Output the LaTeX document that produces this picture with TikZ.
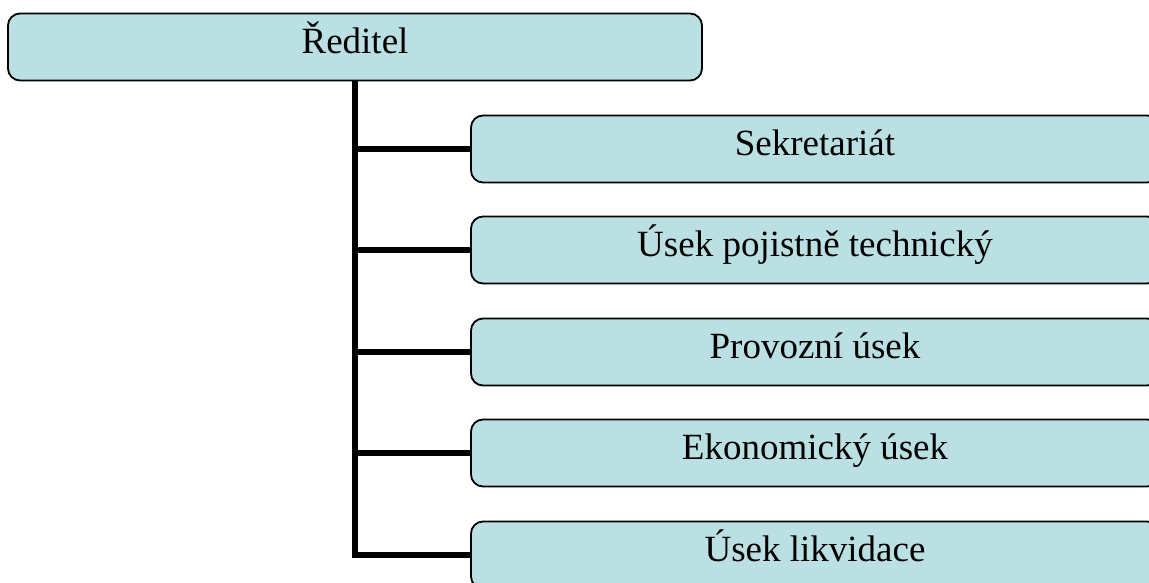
\documentclass[tikz,border=0pt]{standalone}
\usepackage{fontspec}
\setmainfont{Liberation Serif}
\definecolor{orgblue}{HTML}{BBE0E3}
\begin{document}
\begin{tikzpicture}[x=1pt,y=-1pt]
  \useasboundingbox (0,0) rectangle (1149,583);
  \begin{scope}[every node/.style={draw=black, line width=1.8pt, fill=orgblue,
      rounded corners=12pt, minimum height=67pt, inner sep=0pt,
      text height=20pt, text depth=7pt,
      font=\fontsize{37}{42}\selectfont}]
    \node[minimum width=694pt] (reditel) at (355,47) {Ředitel};
    \node[minimum width=688pt] (sekr) at (815,149) {Sekretariát};
    \node[minimum width=688pt] (pojist) at (815,250) {Úsek pojistně technický};
    \node[minimum width=688pt] (provoz) at (815,352) {Provozní úsek};
    \node[minimum width=688pt] (ekon) at (815,453) {Ekonomický úsek};
    \node[minimum width=688pt] (likv) at (815,555) {Úsek likvidace};
  \end{scope}
  \begin{scope}[every edge/.style={draw=black, line width=6pt, line join=miter}]
    \path (reditel.south) edge[to path={|- (\tikztotarget)}] (likv.west);
    \path (reditel.south |- sekr.west) edge (sekr.west);
    \path (reditel.south |- pojist.west) edge (pojist.west);
    \path (reditel.south |- provoz.west) edge (provoz.west);
    \path (reditel.south |- ekon.west) edge (ekon.west);
  \end{scope}
\end{tikzpicture}
\end{document}
